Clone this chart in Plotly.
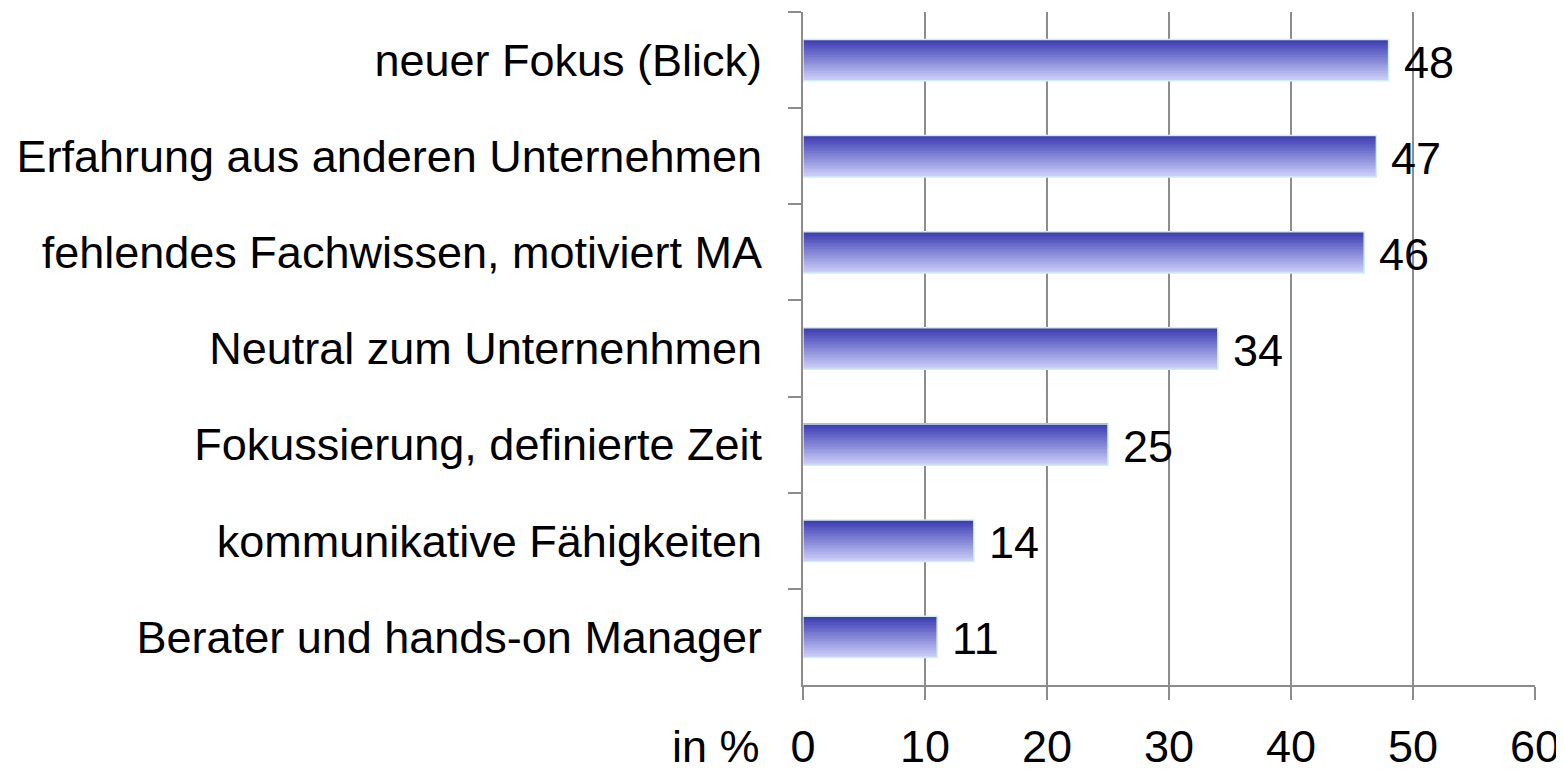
import plotly.graph_objects as go

categories = [
    "neuer Fokus (Blick)",
    "Erfahrung aus anderen Unternehmen",
    "fehlendes Fachwissen, motiviert MA",
    "Neutral zum Unternenhmen",
    "Fokussierung, definierte Zeit",
    "kommunikative Fähigkeiten",
    "Berater und hands-on Manager",
]
values = [48, 47, 46, 34, 25, 14, 11]
x_ticks = [0, 10, 20, 30, 40, 50, 60]

FONT = "Liberation Sans, Arial, sans-serif"
FS = 45
GRID = "#8c8c8c"
BAR_W = 0.43
N = 28
top_rgb = (58, 58, 178)
bot_rgb = (202, 206, 246)

fig = go.Figure()
step = BAR_W / N
for i in range(N):
    t = i / (N - 1)
    c = tuple(round(a + (b - a) * t) for a, b in zip(top_rgb, bot_rgb))
    fig.add_trace(go.Bar(
        x=values, y=categories, orientation="h",
        width=step * 1.05, offset=-BAR_W / 2 + i * step,
        marker=dict(color="rgb(%d,%d,%d)" % c, line=dict(width=0)),
        showlegend=False, hoverinfo="skip",
    ))
# thin light outline
fig.add_trace(go.Bar(
    x=values, y=categories, orientation="h",
    width=BAR_W, offset=-BAR_W / 2,
    marker=dict(color="rgba(0,0,0,0)", line=dict(color="#cfeef0", width=1.5)),
    showlegend=False, hoverinfo="skip",
))

for v, c in zip(values, categories):
    fig.add_annotation(x=v, y=c, text=str(v), showarrow=False,
                       xanchor="left", yanchor="middle", xshift=13, yshift=-2,
                       font=dict(family=FONT, size=FS, color="black"))

fig.add_annotation(x=-0.056, y=-0.092, xref="paper", yref="paper",
                   text="in %", showarrow=False, xanchor="right", yanchor="middle",
                   font=dict(family=FONT, size=FS, color="black"))

fig.update_layout(
    width=1556, height=765,
    margin=dict(l=795, r=29, t=4, b=88),
    plot_bgcolor="white", paper_bgcolor="white",
    barmode="overlay",
    font=dict(family=FONT, size=FS, color="black"),
)
fig.update_xaxes(
    range=[0, 60], tickvals=x_ticks, ticktext=[str(t) for t in x_ticks],
    showgrid=True, gridcolor=GRID, gridwidth=2,
    showline=True, linecolor=GRID, linewidth=2,
    ticks="outside", ticklen=13, tickwidth=2, tickcolor=GRID,
    ticklabelstandoff=8, zeroline=False, automargin=False,
    tickfont=dict(family=FONT, size=FS, color="black"),
)
fig.update_yaxes(
    categoryorder="array", categoryarray=categories,
    range=[6.5, -0.5], tickson="boundaries",
    showline=True, linecolor=GRID, linewidth=2,
    ticks="outside", ticklen=13, tickwidth=2, tickcolor=GRID,
    ticklabelstandoff=30, showgrid=False, automargin=False,
    tickfont=dict(family=FONT, size=FS, color="black"),
)

fig.write_html("out.html")
